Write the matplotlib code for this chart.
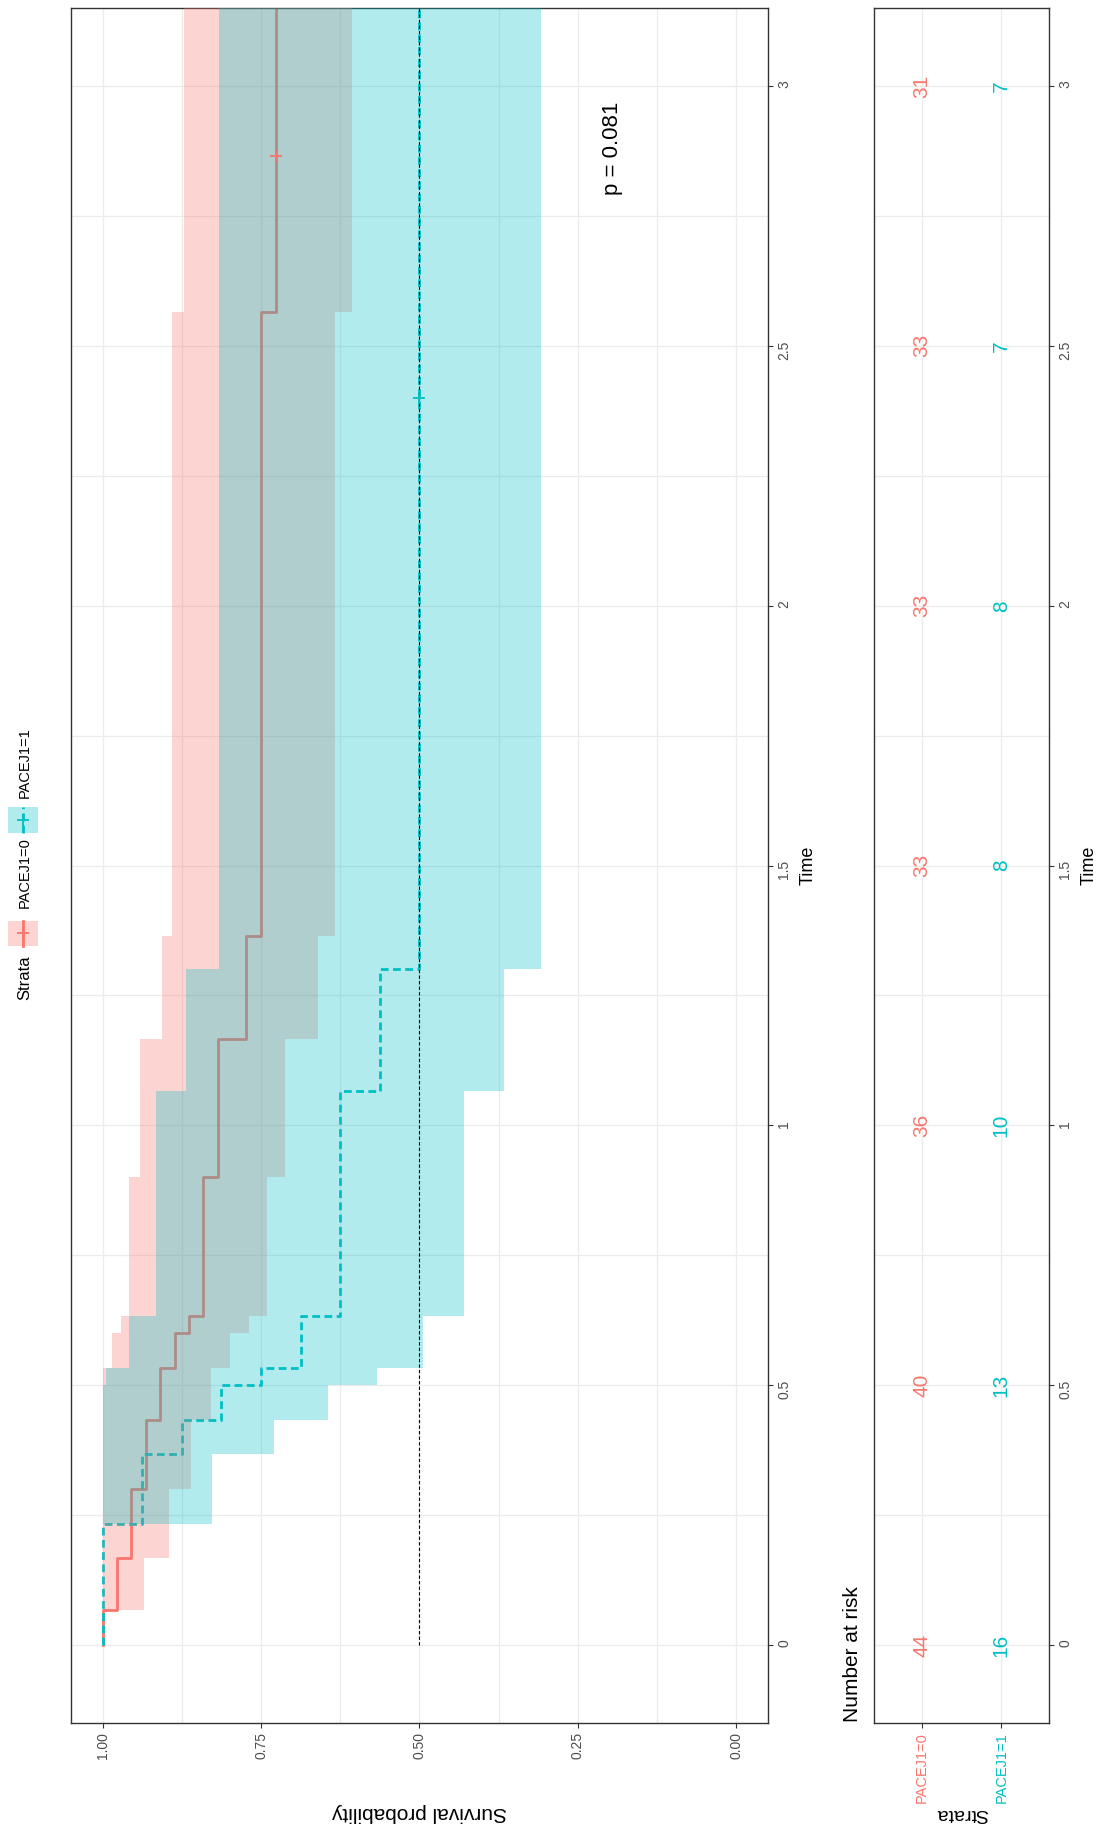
import numpy as np
import matplotlib
matplotlib.use('Agg')
import matplotlib.pyplot as plt
from matplotlib.patches import Rectangle
from matplotlib.lines import Line2D

plt.rcParams['font.family'] = ['Liberation Sans', 'DejaVu Sans']

# strata
strata = ['PACEJ1=0', 'PACEJ1=1']
colors = ['#F8766D', '#00BFC4']

# PACEJ1=0 : KM steps (time, survival, CI)
time0 = [0, 0.067, 0.167, 0.30, 0.433, 0.533, 0.60, 0.633, 0.90, 1.167, 1.365, 2.565]
surv0 = [1.0, 0.977, 0.955, 0.932, 0.909, 0.886, 0.864, 0.841, 0.818, 0.773, 0.75, 0.727]
upper0 = [1.0, 1.0, 1.0, 1.0, 1.0, 0.986, 0.971, 0.959, 0.941, 0.907, 0.89, 0.872]
lower0 = [1.0, 0.935, 0.896, 0.861, 0.829, 0.799, 0.769, 0.741, 0.713, 0.66, 0.634, 0.607]

# PACEJ1=1
time1 = [0, 0.233, 0.367, 0.433, 0.50, 0.533, 0.633, 1.067, 1.30]
surv1 = [1.0, 0.9375, 0.875, 0.8125, 0.75, 0.6875, 0.625, 0.5625, 0.5]
upper1 = [1.0, 1.0, 1.0, 1.0, 0.995, 0.958, 0.916, 0.869, 0.817]
lower1 = [1.0, 0.828, 0.729, 0.644, 0.567, 0.495, 0.43, 0.367, 0.309]

# censoring marks
cens0_t, cens0_s = [2.865], [0.727]
cens1_t, cens1_s = [2.40], [0.5]

# number at risk
risk_times = [0, 0.5, 1, 1.5, 2, 2.5, 3]
risk0 = [44, 40, 36, 33, 33, 33, 31]
risk1 = [16, 13, 10, 8, 8, 7, 7]

pval = 'p = 0.081'
t_end = 3.2

time_ticks = [0, 0.5, 1, 1.5, 2, 2.5, 3]
time_labels = ['0', '0.5', '1', '1.5', '2', '2.5', '3']
surv_ticks = [1.0, 0.75, 0.5, 0.25, 0.0]
surv_labels = ['1.00', '0.75', '0.50', '0.25', '0.00']

tick_col = '#4D4D4D'
grid_col = '#EBEBEB'
border_col = '#333333'
dash = (0, (2.8, 1.6))


def step_path(times, vals):
    t = np.append(times, t_end)
    ys = np.repeat(t, 2)[1:-1]
    xs = np.repeat(vals, 2)
    return xs, ys


fig = plt.figure(figsize=(11.02, 18.27), dpi=100)
ax = fig.add_axes([0.0644, 0.0569, 0.6325, 0.9387])
rax = fig.add_axes([0.7931, 0.0569, 0.1588, 0.9387])

# survival curves (under the ribbons, as in the original)
series = [(time0, surv0, upper0, lower0, '-'), (time1, surv1, upper1, lower1, dash)]
for (tt, ss, up, lo, ls), col in zip(series, colors):
    xs, ys = step_path(tt, ss)
    ax.plot(xs, ys, color=col, lw=2.0, ls=ls, zorder=2)
for (tt, ss, up, lo, ls), col in zip(series, colors):
    yb = np.append(tt, t_end)
    ax.fill_betweenx(yb, np.append(lo, lo[-1]), np.append(up, up[-1]), step='post',
                     color=col, alpha=0.3, lw=0, zorder=3)

ax.plot([0.5, 0.5], [0, t_end], color='black', lw=0.8, ls=(0, (3, 2)), zorder=4)
ax.plot(cens0_s, cens0_t, ls='none', marker='+', ms=9, mew=1.3, color=colors[0], zorder=5)
ax.plot(cens1_s, cens1_t, ls='none', marker='+', ms=9, mew=1.3, color=colors[1], zorder=5)

ax.text(0.195, 2.88, pval, rotation=90, fontsize=16, ha='center', va='center')

ax.set_xlim(1.05, -0.05)
ax.set_ylim(-0.15, 3.15)
ax.set_xticks(surv_ticks)
ax.set_xticklabels(surv_labels)
ax.set_xticks([0.875, 0.625, 0.375, 0.125], minor=True)
ax.yaxis.tick_right()
ax.yaxis.set_label_position('right')
ax.set_yticks(time_ticks)
ax.set_yticklabels(time_labels)
ax.set_yticks(np.arange(0.25, 3.0, 0.5), minor=True)

# risk table
for i, (vals, col) in enumerate(zip([risk0, risk1], colors)):
    for t, n in zip(risk_times, vals):
        rax.text(i + 1, t, str(n), rotation=90, color=col, fontsize=15,
                 ha='center', va='center')
rax.set_xlim(0.4, 2.6)
rax.set_ylim(-0.15, 3.15)
rax.set_xticks([1, 2])
rax.set_xticklabels(strata)
rax.yaxis.tick_right()
rax.yaxis.set_label_position('right')
rax.set_yticks(time_ticks)
rax.set_yticklabels(time_labels)
rax.set_yticks(np.arange(0.25, 3.0, 0.5), minor=True)

for a in (ax, rax):
    a.set_axisbelow(True)
    a.grid(True, which='both', color=grid_col, lw=0.9)
    a.tick_params(which='major', direction='out', length=3.5, width=0.8, color=border_col,
                  labelcolor=tick_col, labelsize=10, pad=3)
    a.tick_params(which='minor', length=0)
    a.tick_params(axis='both', labelrotation=90)
    for sp in a.spines.values():
        sp.set_color(border_col)
        sp.set_linewidth(1.0)
    a.set_ylabel('Time', fontsize=13, labelpad=6)

rax.tick_params(axis='x', labelsize=10.5)
for lbl, col in zip(rax.get_xticklabels(), colors):
    lbl.set_color(col)

ax.set_xlabel('Survival probability', rotation=180, fontsize=15)
ax.xaxis.set_label_coords(0.5, -0.0466)
rax.set_xlabel('Strata', rotation=180, fontsize=14)
rax.xaxis.set_label_coords(0.5, -0.048)

fig.text(852 / 1102, 1 - 1722 / 1827, 'Number at risk', rotation=90,
         ha='center', va='bottom', fontsize=15)

# legend on the left edge
W, H = 1102, 1827
fig.text(25 / W, 1 - 978 / H, 'Strata', rotation=90, ha='center', va='center', fontsize=12)
key_rows = [(921, 946, 873, '-'), (807, 833, 763, dash)]
for (y0, y1, ytxt, ls), col, name in zip(key_rows, colors, strata):
    fig.add_artist(Rectangle((8 / W, 1 - y1 / H), 30 / W, (y1 - y0) / H,
                             transform=fig.transFigure, facecolor=col, alpha=0.3, lw=0))
    fig.add_artist(Line2D([23 / W, 23 / W], [1 - y1 / H, 1 - y0 / H], transform=fig.transFigure,
                          color=col, lw=2.0, ls=ls))
    fig.add_artist(Line2D([23 / W], [1 - (y0 + y1) / 2 / H], transform=fig.transFigure,
                          color=col, marker='+', ms=9, mew=1.3, ls='none'))
    fig.text(25 / W, 1 - ytxt / H, name, rotation=90, ha='center', va='center', fontsize=10.5)

fig.savefig('out.png', dpi=100)
